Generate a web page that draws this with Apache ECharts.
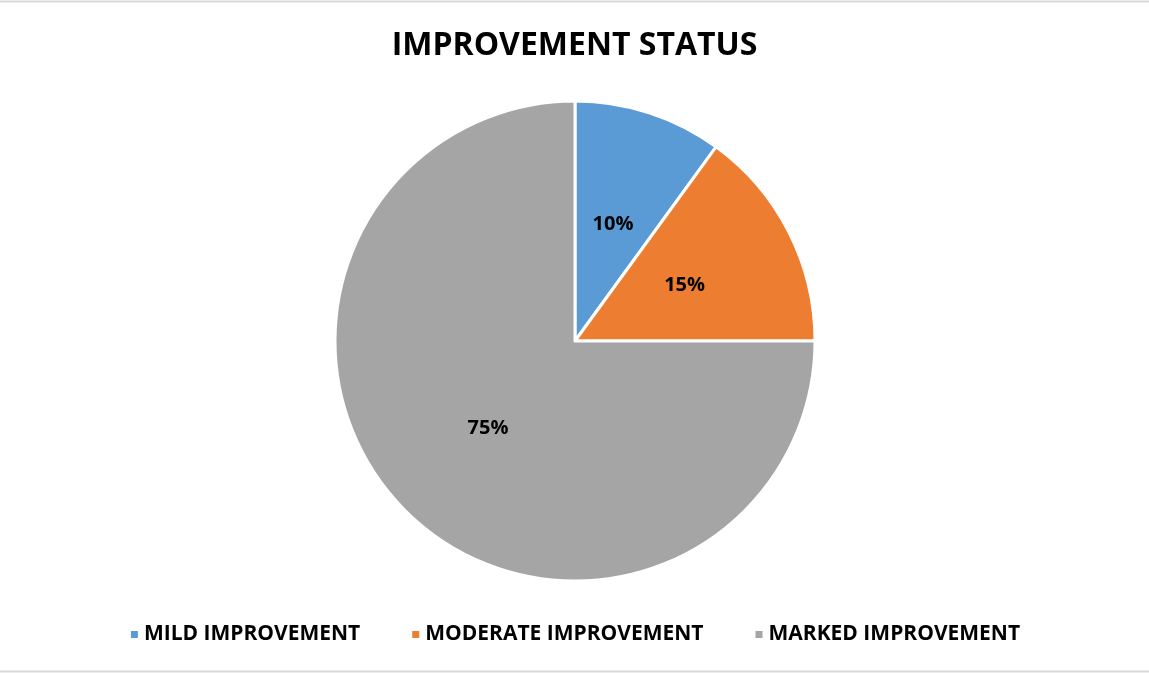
<!DOCTYPE html>
<html>
<head>
<meta charset="utf-8">
<script src="https://cdn.jsdelivr.net/npm/echarts@6/dist/echarts.min.js"></script>
<style>
  html, body { margin: 0; padding: 0; background: #fff; }
  #chart { width: 1149px; height: 673px; }
</style>
</head>
<body>
<div id="chart"></div>
<script>
// Improvement status shares
const categories = ['MILD IMPROVEMENT', 'MODERATE IMPROVEMENT', 'MARKED IMPROVEMENT'];
const shares = [10, 15, 75];
const colors = ['#5B9BD5', '#ED7D31', '#A5A5A5'];

const chart = echarts.init(document.getElementById('chart'), null, { renderer: 'canvas' });

const FONT = '"Open Sans", "Liberation Sans", sans-serif';

chart.setOption({
  backgroundColor: '#ffffff',
  animation: false,
  color: colors,
  title: {
    text: 'IMPROVEMENT STATUS',
    left: 'center',
    top: 25,
    textStyle: { fontFamily: FONT, fontSize: 32, fontWeight: 'bold', color: '#000' }
  },
  legend: {
    bottom: 23,
    left: 'center',
    icon: 'rect',
    itemWidth: 9,
    itemHeight: 9,
    itemGap: 50,
    data: categories,
    textStyle: { fontFamily: FONT, fontSize: 21, fontWeight: 'bold', color: '#000' }
  },
  graphic: [
    { type: 'line', shape: { x1: 0, y1: 1.5, x2: 1149, y2: 1.5 }, style: { stroke: '#d9d9d9', lineWidth: 2 } },
    { type: 'line', shape: { x1: 0, y1: 671.5, x2: 1149, y2: 671.5 }, style: { stroke: '#d9d9d9', lineWidth: 2 } }
  ],
  series: [{
    type: 'pie',
    center: [575, 341],
    radius: [0, 240],
    startAngle: 90,
    clockwise: true,
    itemStyle: { borderColor: '#ffffff', borderWidth: 3 },
    label: {
      position: 'inner',
      formatter: '{d}%',
      fontFamily: FONT,
      fontSize: 20,
      fontWeight: 'bold',
      color: '#000'
    },
    labelLine: { show: false },
    data: categories.map((name, i) => ({ name, value: shares[i] }))
  }]
});
</script>
</body>
</html>
